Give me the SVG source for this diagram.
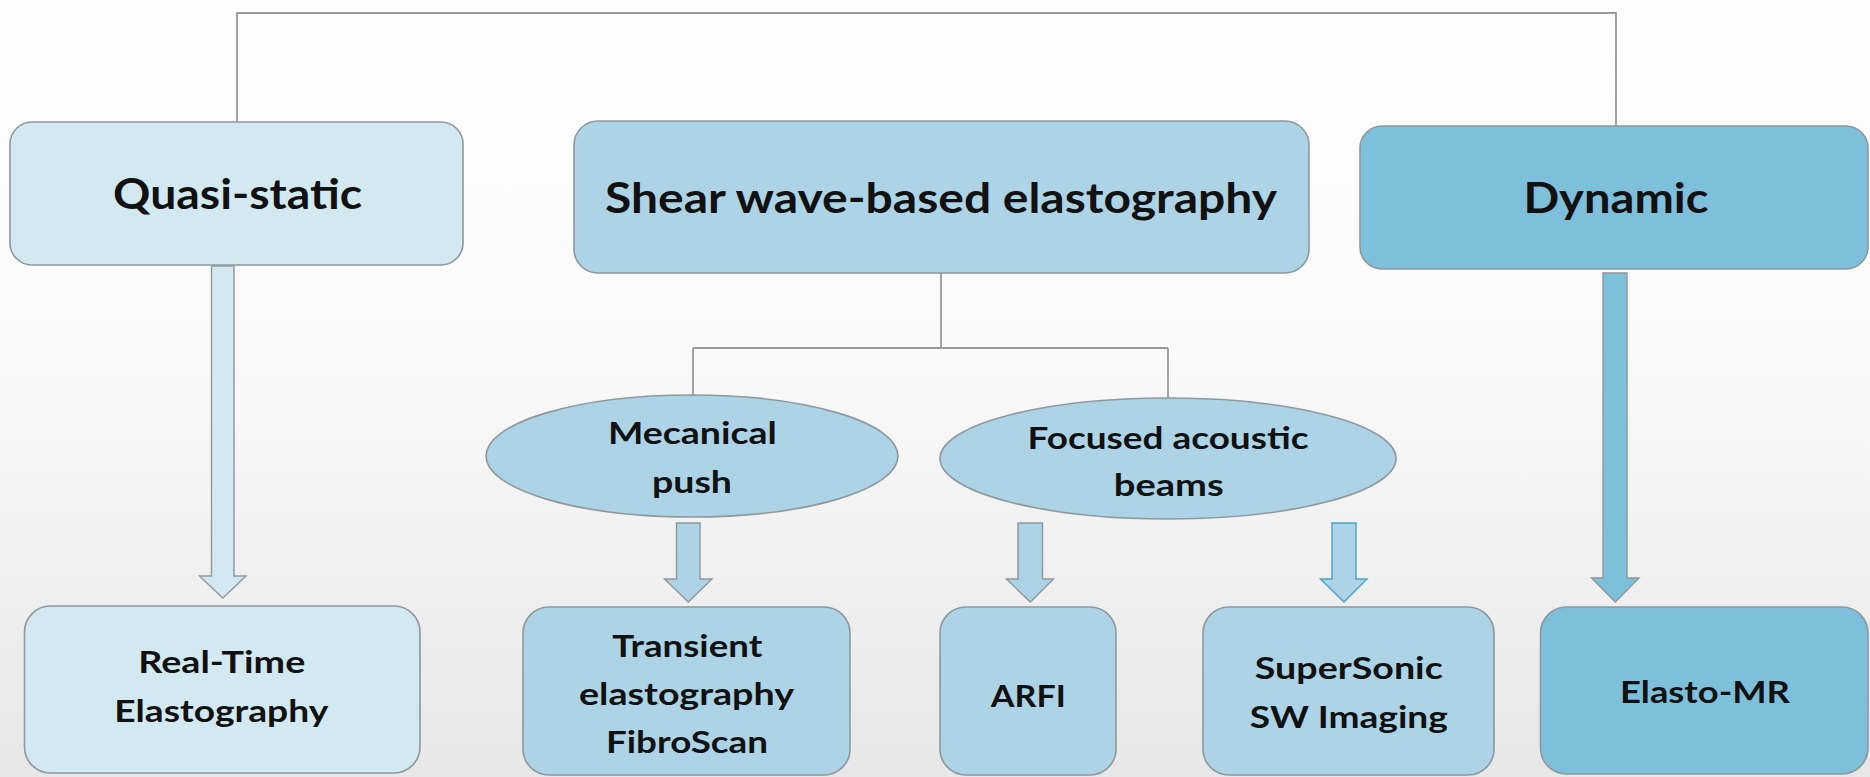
<svg xmlns="http://www.w3.org/2000/svg" width="1870" height="777" viewBox="0 0 1870 777">
<defs>
<linearGradient id="bg" x1="0" y1="0" x2="0" y2="1">
<stop offset="0" stop-color="#fefefe"/>
<stop offset="0.45" stop-color="#fafafa"/>
<stop offset="1" stop-color="#e7e7e7"/>
</linearGradient>
<style>
.box{stroke:#8e989d;stroke-width:1.6}
.l1{fill:#d3e9f2}
.l2{fill:#acd4e6}
.l3{fill:#7ebfdb}
.arr{stroke:#8e989d;stroke-width:1.4}
.arrb{stroke:#4aa2c6;stroke-width:1.4}
.conn{fill:none;stroke:#999;stroke-width:1.8}
text{font-family:Lato,"Open Sans","Liberation Sans",sans-serif;font-weight:700;fill:#111;text-anchor:middle}
.big{font-size:42px}
.sm{font-size:31px}
</style>
</defs>
<rect width="1870" height="777" fill="url(#bg)"/>
<g id="connectors">
<path class="conn" d="M237,122 V13 H1616 V126"/>
<path class="conn" d="M941,273 V348 M693,348 H1168 M693,348 V395 M1168,348 V398"/>
<polygon id="arrow-quasi" class="arr l1" points="211.5,266 234,266 234,576 246,576 222.8,598 199.5,576 211.5,576"/>
<polygon id="arrow-mec" class="arr l2" points="676.5,523 700,523 700,579 712,579 688.3,602 664.5,579 676.5,579"/>
<polygon id="arrow-arfi" class="arr l2" points="1018,523 1042.5,523 1042.5,579 1053.5,579 1030.3,602 1006.5,579 1018,579"/>
<polygon id="arrow-ss" class="arrb l2" points="1332,523 1356,523 1356,579 1367,579 1344,602 1320.5,579 1332,579"/>
<polygon id="arrow-dyn" class="arr l3" points="1603,273 1627,273 1627,578 1639,578 1615.3,602 1591.5,578 1603,578"/>
</g>
<g id="quasi-static">
<rect class="box l1" x="10" y="122" width="453" height="143" rx="22"/>
<text class="big" x="237.6" y="209" textLength="249" lengthAdjust="spacingAndGlyphs">Quasi-static</text>
</g>
<g id="shear-wave">
<rect class="box l2" x="574" y="121" width="735" height="152" rx="24"/>
<text class="big" x="941" y="213" textLength="672" lengthAdjust="spacingAndGlyphs">Shear wave-based elastography</text>
</g>
<g id="dynamic">
<rect class="box l3" x="1360" y="126" width="508" height="143" rx="22"/>
<text class="big" x="1616" y="213" textLength="185" lengthAdjust="spacingAndGlyphs">Dynamic</text>
</g>
<g id="mecanical-push">
<ellipse class="box l2" cx="692" cy="456" rx="206" ry="61"/>
<text class="sm" x="692.4" y="444" textLength="169" lengthAdjust="spacingAndGlyphs">Mecanical</text>
<text class="sm" x="692" y="492.5" textLength="80" lengthAdjust="spacingAndGlyphs">push</text>
</g>
<g id="focused-acoustic">
<ellipse class="box l2" cx="1168" cy="458.5" rx="228" ry="60.5"/>
<text class="sm" x="1168" y="449" textLength="281" lengthAdjust="spacingAndGlyphs">Focused acoustic</text>
<text class="sm" x="1168.8" y="496" textLength="110" lengthAdjust="spacingAndGlyphs">beams</text>
</g>
<g id="real-time">
<rect class="box l1" x="24.5" y="606" width="395.5" height="167" rx="26"/>
<text class="sm" x="221.8" y="673" textLength="167" lengthAdjust="spacingAndGlyphs">Real-Time</text>
<text class="sm" x="221.3" y="722" textLength="214" lengthAdjust="spacingAndGlyphs">Elastography</text>
</g>
<g id="transient">
<rect class="box l2" x="523" y="607" width="327" height="168" rx="26"/>
<text class="sm" x="687.3" y="656.7" textLength="150" lengthAdjust="spacingAndGlyphs">Transient</text>
<text class="sm" x="686.5" y="705" textLength="215" lengthAdjust="spacingAndGlyphs">elastography</text>
<text class="sm" x="687" y="753" textLength="162" lengthAdjust="spacingAndGlyphs">FibroScan</text>
</g>
<g id="arfi">
<rect class="box l2" x="940" y="607" width="176" height="168" rx="26"/>
<text class="sm" x="1028.3" y="706.7" textLength="75" lengthAdjust="spacingAndGlyphs">ARFI</text>
</g>
<g id="supersonic">
<rect class="box l2" x="1203" y="607" width="291" height="168" rx="26"/>
<text class="sm" x="1348.8" y="679" textLength="188" lengthAdjust="spacingAndGlyphs">SuperSonic</text>
<text class="sm" x="1348.8" y="728" textLength="198" lengthAdjust="spacingAndGlyphs">SW Imaging</text>
</g>
<g id="elasto-mr">
<rect class="box l3" x="1540.5" y="607" width="327.5" height="167" rx="26"/>
<text class="sm" x="1705" y="703.3" textLength="170" lengthAdjust="spacingAndGlyphs">Elasto-MR</text>
</g>
</svg>
